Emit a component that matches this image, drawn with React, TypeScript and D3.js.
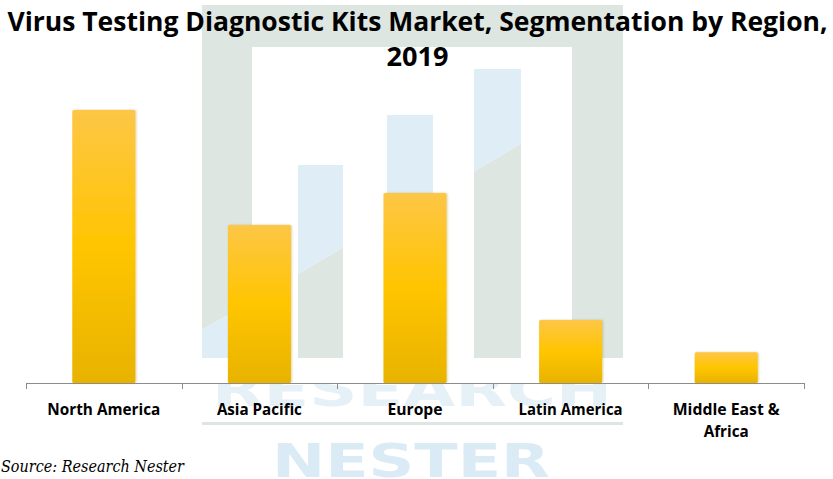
import React from "react";
import * as d3 from "d3";

const categories: string[][] = [
  ["North America"],
  ["Asia Pacific"],
  ["Europe"],
  ["Latin America"],
  ["Middle East &", "Africa"],
];
const shares: number[] = [38.2, 22.1, 26.6, 8.8, 4.3];
const titleLines: string[] = [
  "Virus Testing Diagnostic Kits Market, Segmentation by Region,",
  "2019",
];
const sourceText = "Source: Research Nester";

const W = 833;
const H = 479;

export default function App() {
  const margin = { left: 26, right: 29, top: 110, baseline: 383 };
  const x = d3
    .scaleBand<number>()
    .domain(d3.range(categories.length))
    .range([margin.left, W - margin.right])
    .paddingInner(0)
    .paddingOuter(0);
  const y = d3
    .scaleLinear()
    .domain([0, d3.max(shares) as number])
    .range([margin.baseline, margin.top]);
  const bw = x.bandwidth() * 0.405;

  const gray = "#dde6e0";
  const blue = "#dfedf6";
  const dy = (px: number) => 330 - (px - 202) * 0.583;
  const labelFont = "'Open Sans', 'DejaVu Sans', sans-serif";
  const labelWidths: number[][] = [[113], [85], [55], [104], [107, 45]];

  return (
    <svg width={W} height={H} style={{ position: "absolute", left: 0, top: 0 }}>
      <defs>
        <linearGradient id="barGrad" x1="0" y1="0" x2="0" y2="1">
          <stop offset="0%" stopColor="#fdc646" />
          <stop offset="50%" stopColor="#ffc500" />
          <stop offset="100%" stopColor="#e8b300" />
        </linearGradient>
        <clipPath id="below">
          <polygon points={`180,${dy(180)} 650,${dy(650)} 650,400 180,400`} />
        </clipPath>
        <clipPath id="above">
          <polygon points={`180,${dy(180)} 650,${dy(650)} 650,0 180,0`} />
        </clipPath>
        <clipPath id="underAxis">
          <rect x={0} y={384} width={W} height={100} />
        </clipPath>
        <filter id="sh" x="-10%" y="-10%" width="120%" height="120%">
          <feDropShadow dx="1" dy="0" stdDeviation="0.8" floodColor="#a08000" floodOpacity="0.35" />
        </filter>
      </defs>
      <rect x={0} y={0} width={W} height={H} fill="#fff" />

      {/* watermark */}
      <g>
        <rect x={202} y={5} width={421} height={42} fill={gray} />
        <rect x={572} y={5} width={51} height={353} fill={gray} />
        <g clipPath="url(#above)">
          <rect x={202} y={5} width={50} height={353} fill={gray} />
          <rect x={298} y={165} width={45} height={193} fill={blue} />
          <rect x={387} y={115} width={46} height={243} fill={blue} />
          <rect x={474} y={69} width={47} height={289} fill={blue} />
        </g>
        <g clipPath="url(#below)">
          <rect x={202} y={5} width={50} height={353} fill={blue} />
          <rect x={298} y={165} width={45} height={193} fill={gray} />
          <rect x={387} y={115} width={46} height={243} fill={gray} />
          <rect x={474} y={69} width={47} height={289} fill={gray} />
        </g>
        <g clipPath="url(#underAxis)">
          <text
            x={212}
            y={406}
            fontFamily="'DejaVu Sans', sans-serif"
            fontWeight={700}
            fontSize={47}
            fill="#e6f0f7"
            textLength={400}
            lengthAdjust="spacingAndGlyphs"
          >
            RESEARCH
          </text>
        </g>
        <rect x={202} y={422} width={421} height={3} fill={gray} />
        <text
          x={272}
          y={477}
          fontFamily="'DejaVu Sans', sans-serif"
          fontWeight={700}
          fontSize={47}
          fill="#dbebf5"
          textLength={278}
          lengthAdjust="spacingAndGlyphs"
        >
          NESTER
        </text>
      </g>

      {/* title */}
      <text
        x={W / 2 + 1}
        y={31}
        textAnchor="middle"
        fontFamily={labelFont}
        fontWeight={700}
        fontSize={27}
        fill="#000"
        textLength={820}
        lengthAdjust="spacingAndGlyphs"
      >
        {titleLines[0]}
      </text>
      <text
        x={W / 2 + 1}
        y={66}
        textAnchor="middle"
        fontFamily={labelFont}
        fontWeight={700}
        fontSize={27}
        fill="#000"
        textLength={62}
        lengthAdjust="spacingAndGlyphs"
      >
        {titleLines[1]}
      </text>

      {/* bars */}
      {shares.map((v, i) => {
        const cx = (x(i) as number) + x.bandwidth() / 2;
        return (
          <rect
            key={i}
            x={cx - bw / 2}
            y={y(v)}
            width={bw}
            height={margin.baseline - y(v)}
            rx={1.5}
            fill="url(#barGrad)"
            filter="url(#sh)"
          />
        );
      })}

      {/* axis */}
      <line
        x1={margin.left}
        x2={W - margin.right}
        y1={margin.baseline + 0.5}
        y2={margin.baseline + 0.5}
        stroke="#8c8c8c"
        strokeWidth={1}
      />
      {d3.range(categories.length + 1).map((i) => {
        const tx =
          i < categories.length ? (x(i) as number) : (x(categories.length - 1) as number) + x.bandwidth();
        return (
          <line
            key={i}
            x1={Math.round(tx) + 0.5}
            x2={Math.round(tx) + 0.5}
            y1={margin.baseline}
            y2={margin.baseline + 6}
            stroke="#8c8c8c"
            strokeWidth={1}
          />
        );
      })}
      {categories.map((lines, i) => {
        const cx = (x(i) as number) + x.bandwidth() / 2;
        return lines.map((ln, j) => (
          <text
            key={`${i}-${j}`}
            x={cx}
            y={415 + j * 22}
            textAnchor="middle"
            fontFamily={labelFont}
            fontWeight={700}
            fontSize={16}
            fill="#000"
            textLength={labelWidths[i][j]}
            lengthAdjust="spacingAndGlyphs"
          >
            {ln}
          </text>
        ));
      })}

      {/* source */}
      <text
        x={1}
        y={472}
        fontFamily="'DejaVu Serif', 'Liberation Serif', serif"
        fontStyle="italic"
        fontSize={17}
        fill="#000"
        textLength={183}
        lengthAdjust="spacingAndGlyphs"
      >
        {sourceText}
      </text>
    </svg>
  );
}
